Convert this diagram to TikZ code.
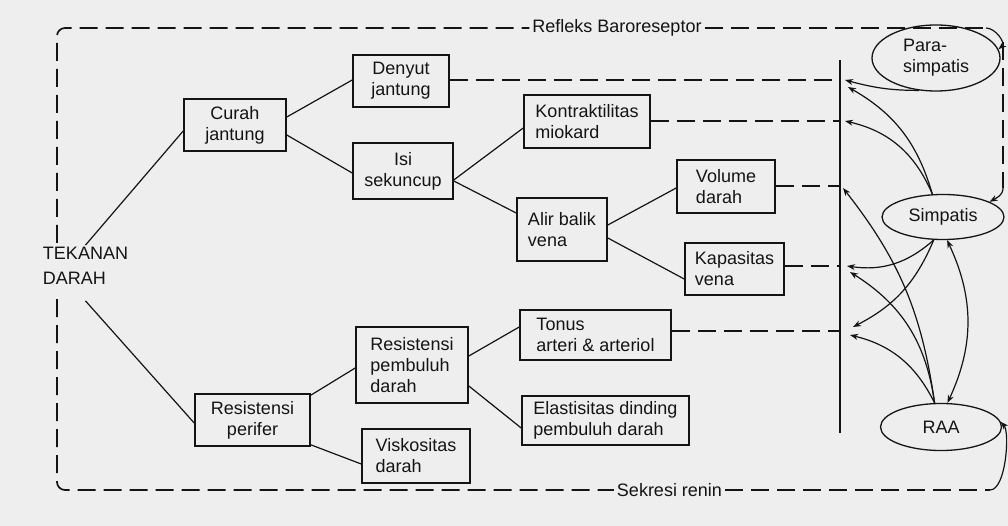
\documentclass[tikz,border=0pt]{standalone}
\usepackage{fontspec}
\setmainfont{Liberation Sans}
\usetikzlibrary{shapes.geometric,arrows.meta,calc}
\definecolor{paper}{RGB}{238,238,238}
\definecolor{ink}{RGB}{20,20,20}
\begin{document}
\begin{tikzpicture}[x=1pt,y=1pt,
  font=\fontsize{18pt}{21pt}\selectfont,
  every node/.style={text=ink},
  bx/.style={draw=ink, line width=1.6pt, inner sep=0pt, align=left},
  bxc/.style={bx, align=center},
  ell/.style={ellipse, draw=ink, line width=1.3pt, inner sep=0pt, align=left},
  conn/.style={draw=ink, line width=1.2pt},
  dsh/.style={draw=ink, line width=1.7pt, dash pattern=on 18pt off 8pt},
  arr/.style={draw=ink, line width=1.2pt, -{Stealth[length=8pt,width=6pt]}},
  darr/.style={draw=ink, line width=1.2pt, {Stealth[length=8pt,width=6pt]}-{Stealth[length=8pt,width=6pt]}}
]
\useasboundingbox (0,0) rectangle (1008,-526);
\fill[paper] (0,0) rectangle (1008,-526);

% boxes
\node[bxc, minimum width=102pt, minimum height=52pt] (cj) at (235,-125) {Curah\\jantung};
\node[bxc, minimum width=96pt, minimum height=52pt] (dj) at (401,-81) {Denyut\\jantung};
\node[bxc, minimum width=100pt, minimum height=56pt] (is) at (403,-171) {Isi\\sekuncup};
\node[bx, minimum width=126pt, minimum height=53pt] (km) at (587,-121.5) {Kontraktilitas\\miokard};
\node[bx, minimum width=90pt, minimum height=63pt] (ab) at (562,-229.5) {Alir balik\\vena};
\node[bx, minimum width=98pt, minimum height=53pt] (vd) at (726,-186.5) {Volume\\darah};
\node[bx, minimum width=99pt, minimum height=52pt] (kv) at (734.5,-269) {Kapasitas\\vena};
\node[bx, minimum width=151pt, minimum height=50pt] (tn) at (595.5,-335) {Tonus\\arteri \& arteriol};
\node[bx, minimum width=167pt, minimum height=49pt] (el) at (605.5,-420.5) {Elastisitas dinding\\pembuluh darah};
\node[bx, minimum width=112pt, minimum height=76pt] (rp) at (412,-365) {Resistensi\\pembuluh\\darah};
\node[bx, minimum width=108pt, minimum height=54pt] (vk) at (416,-456) {Viskositas\\darah};
\node[bxc, minimum width=115pt, minimum height=52pt] (rf) at (252.5,-420) {Resistensi\\perifer};

% ellipses
\node[ell, minimum width=128pt, minimum height=66pt] (para) at (936,-58) {Para-\\simpatis};
\node[ell, minimum width=122pt, minimum height=45pt] (simp) at (943,-217) {Simpatis};
\node[ell, minimum width=121pt, minimum height=47pt] (raa) at (941,-427) {RAA};

% labels
\node[inner sep=2pt, align=left] (tek) at (85.5,-266) {TEKANAN\\[4pt]DARAH};
\node[inner sep=3pt] (refl) at (617,-28) {Refleks Baroreseptor};
\node[inner sep=3pt] (sek) at (669.5,-490) {Sekresi renin};

% vertical bar
\coordinate (bt) at (840,-60);
\coordinate (bb) at (840,-433);
\draw[draw=ink, line width=1.4pt] (bt) -- (bb);

% solid connectors
\draw[conn] (tek.north) -- ([yshift=-6pt]cj.west);
\draw[conn] ([yshift=-14pt]tek.south) -- ([yshift=-3pt]rf.west);
\draw[conn] ([yshift=8pt]cj.east) -- ([yshift=1pt]dj.west);
\draw[conn] ([yshift=-10pt]cj.east) -- ([yshift=-2pt]is.west);
\draw[conn] ([yshift=-9pt]is.east) -- ([yshift=-6.5pt]km.west);
\draw[conn] ([yshift=-10pt]is.east) -- ([yshift=16.5pt]ab.west);
\draw[conn] ([yshift=4.5pt]ab.east) -- ([yshift=-1.5pt]vd.west);
\draw[conn] ([yshift=-8.5pt]ab.east) -- ([yshift=-10pt]kv.west);
\draw[conn] ([yshift=-2pt]rf.north east) -- ([yshift=-3pt]rp.west);
\draw[conn] ([yshift=2pt]rf.south east) -- ([yshift=-8pt]vk.west);
\draw[conn] ([yshift=9pt]rp.east) -- ([yshift=8pt]tn.west);
\draw[conn] ([yshift=-21pt]rp.east) -- ([yshift=-7.5pt]el.west);

% dashed to bar
\draw[dsh] ([yshift=1pt]dj.east) -- ([yshift=1pt]dj.east -| bt);
\draw[dsh] ([yshift=0.5pt]km.east) -- ([yshift=0.5pt]km.east -| bt);
\draw[dsh] ([yshift=0.5pt]vd.east) -- ([yshift=0.5pt]vd.east -| bt);
\draw[dsh] ([yshift=3pt]kv.east) -- ([yshift=3pt]kv.east -| bt);
\draw[dsh] ([yshift=4pt]tn.east) -- ([yshift=4pt]tn.east -| bt);

% outer feedback loop
\coordinate (L1) at (57,-243);
\coordinate (L2) at (57,-299);
\coordinate (TL) at (57,-28);
\coordinate (BL) at (57,-490);
\draw[dsh, rounded corners=8pt] (L1) -- (TL) -- (refl.west);
\draw[dsh, rounded corners=8pt] (L2) -- (BL) -- (sek.west);

\coordinate (TR) at (986,-28);
\draw[dsh] (refl.east) -- (TR);
\draw[arr] (TR) to[out=0, in=40] (para.8);

\coordinate (R1) at (1003,-42);
\coordinate (R2) at (1003,-188);
\draw[dsh] (R1) -- (R2);
\draw[arr] (R2) to[out=-90, in=30] (simp.18);

\coordinate (BR) at (990,-490);
\draw[dsh] (sek.east) -- (BR);
\draw[arr] (BR) .. controls (1006,-490) and (1010,-432) .. (raa.5);

% arrows to bar
\coordinate (t1) at (845,-80);
\coordinate (t2) at (848,-87);
\coordinate (t3) at (845,-121);
\coordinate (t4) at (843,-188);
\coordinate (t5) at (847,-266);
\coordinate (t6) at (850,-272);
\coordinate (t7) at (853,-327);
\coordinate (t8) at (850,-335);
\draw[arr] (para.242) to[out=180, in=-15] (t1);
\draw[arr] (simp.115) to[bend right=22] (t2);
\draw[arr] (simp.115) to[bend right=27] (t3);
\draw[arr] (raa.105) to[bend right=15] (t4);
\draw[arr] (simp.248) to[bend left=25] (t5);
\draw[arr] (raa.105) to[bend right=25] (t6);
\draw[arr] (simp.248) to[bend left=20] (t7);
\draw[arr] (raa.105) to[bend right=25] (t8);
\draw[darr] (simp.280) to[bend left=25] (raa.75);
\end{tikzpicture}
\end{document}
